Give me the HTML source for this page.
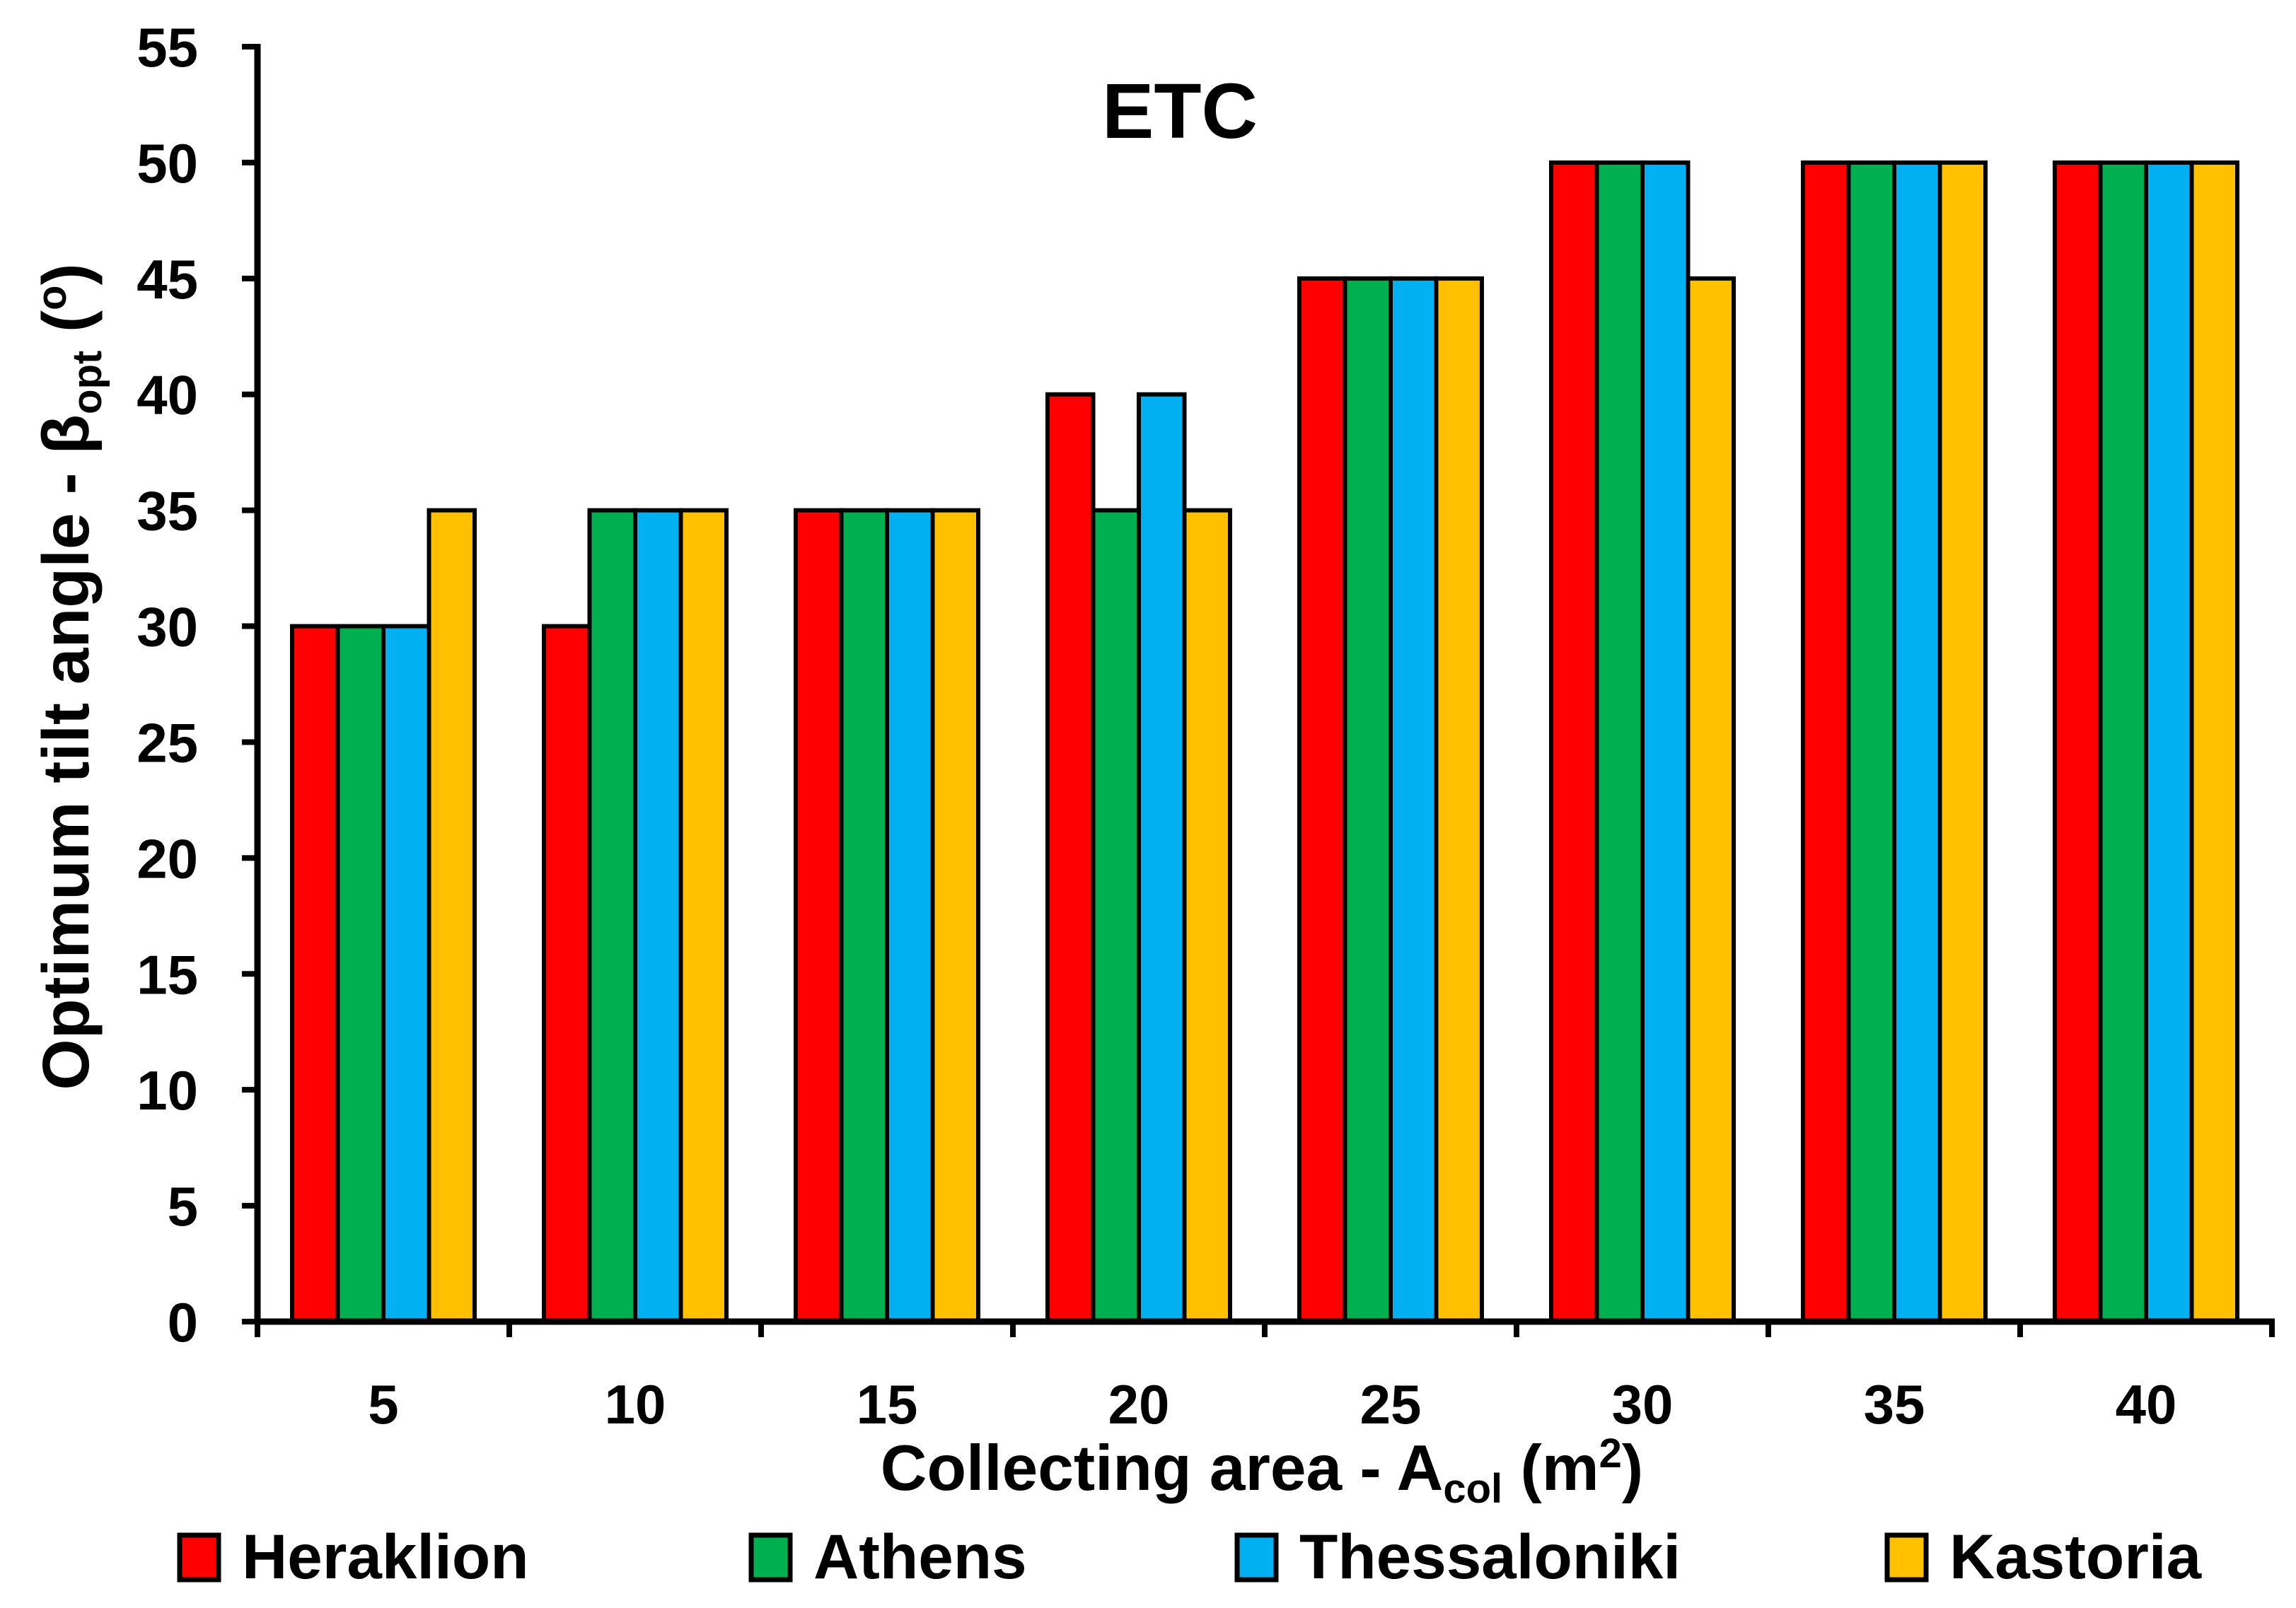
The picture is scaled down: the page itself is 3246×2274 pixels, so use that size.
<!DOCTYPE html>
<html><head><meta charset="utf-8"><style>
html,body{margin:0;padding:0;background:#fff;}
svg{display:block;font-family:"Liberation Sans",sans-serif;font-weight:bold;}
</style></head><body>
<svg id="chart" width="3246" height="2274" viewBox="0 0 3246 2274" xmlns="http://www.w3.org/2000/svg">
<text x="1668" y="195" font-size="110" text-anchor="middle">ETC</text>
<text transform="translate(125,957) rotate(-90)" font-size="93" text-anchor="middle">Optimum tilt angle - β<tspan font-size="58" dy="18">opt</tspan><tspan dy="-18"> (</tspan><tspan font-size="58" dy="-32">o</tspan><tspan dy="32">)</tspan></text>
<text x="1784" y="2107" font-size="91" text-anchor="middle">Collecting area - A<tspan font-size="58" dy="18">col</tspan><tspan dy="-18"> (m</tspan><tspan font-size="58" dy="-32">2</tspan><tspan dy="32">)</tspan></text>
<g id="bars"></g><g id="axes"></g><g id="legend"></g>
</svg>
<script>
const categories = ["5","10","15","20","25","30","35","40"];
const seriesNames = ["Heraklion","Athens","Thessaloniki","Kastoria"];
const heraklion = [30,30,35,40,45,50,50,50];
const athens = [30,35,35,35,45,50,50,50];
const thessaloniki = [30,35,35,40,45,50,50,50];
const kastoria = [35,35,35,35,45,45,50,50];
const yTicks = [0,5,10,15,20,25,30,35,40,45,50,55];

const series=[heraklion,athens,thessaloniki,kastoria];
const colors=["#FF0000","#00B050","#00B0F0","#FFC000"];
const NS="http://www.w3.org/2000/svg";
const X0=364,X1=3212,Y0=1869,Y1=66,YMAX=55;
const catW=(X1-X0)/categories.length;
const barW=64.5;
function y(v){return Y0-(v/YMAX)*(Y0-Y1);}
function xc(i){return X0+catW*(i+0.5);}
function mk(tag,attrs,parent){const e=document.createElementNS(NS,tag);for(const k in attrs)e.setAttribute(k,attrs[k]);parent.appendChild(e);return e;}
const gb=document.getElementById('bars'),ga=document.getElementById('axes'),gl=document.getElementById('legend');
categories.forEach((c,i)=>{
  series.forEach((s,j)=>{
    const x=xc(i)-2*barW+j*barW;
    const r=mk('rect',{x:x,y:y(s[i]),width:barW,height:Y0-y(s[i]),fill:colors[j],stroke:'#000','stroke-width':6},gb);
    
    
  });
  const t=mk('text',{x:xc(i),y:2013,'font-size':78,'text-anchor':'middle'},ga);
  t.textContent=c;
  
  
});
for(let i=0;i<=categories.length;i++){
  const tk=mk('line',{x1:X0+catW*i,x2:X0+catW*i,y1:Y0,y2:Y0+22,stroke:'#000','stroke-width':8},ga);
  
  
}
yTicks.forEach(v=>{
  const tk=mk('line',{x1:X0-22,x2:X0,y1:y(v),y2:y(v),stroke:'#000','stroke-width':8},ga);
  
  
  const t=mk('text',{x:280,y:y(v)+28,'font-size':78,'text-anchor':'end'},ga);
  t.textContent=v;
  
  
});
const ya=mk('line',{x1:X0,x2:X0,y1:Y1-4,y2:Y0+4,stroke:'#000','stroke-width':9},ga);


const xa=mk('line',{x1:X0-4,x2:X1+4,y1:Y0,y2:Y0,stroke:'#000','stroke-width':9},ga);


const legX=[254,1062,1749,2668];
seriesNames.forEach((n,j)=>{
  const g=mk('g',{},gl);
  
  
  mk('rect',{x:legX[j],y:2171,width:55,height:63,fill:colors[j],stroke:'#000','stroke-width':7},g);
  const t=mk('text',{x:legX[j]+88,y:2232,'font-size':89},g);
  t.textContent=n;
});
</script>
</body></html>
